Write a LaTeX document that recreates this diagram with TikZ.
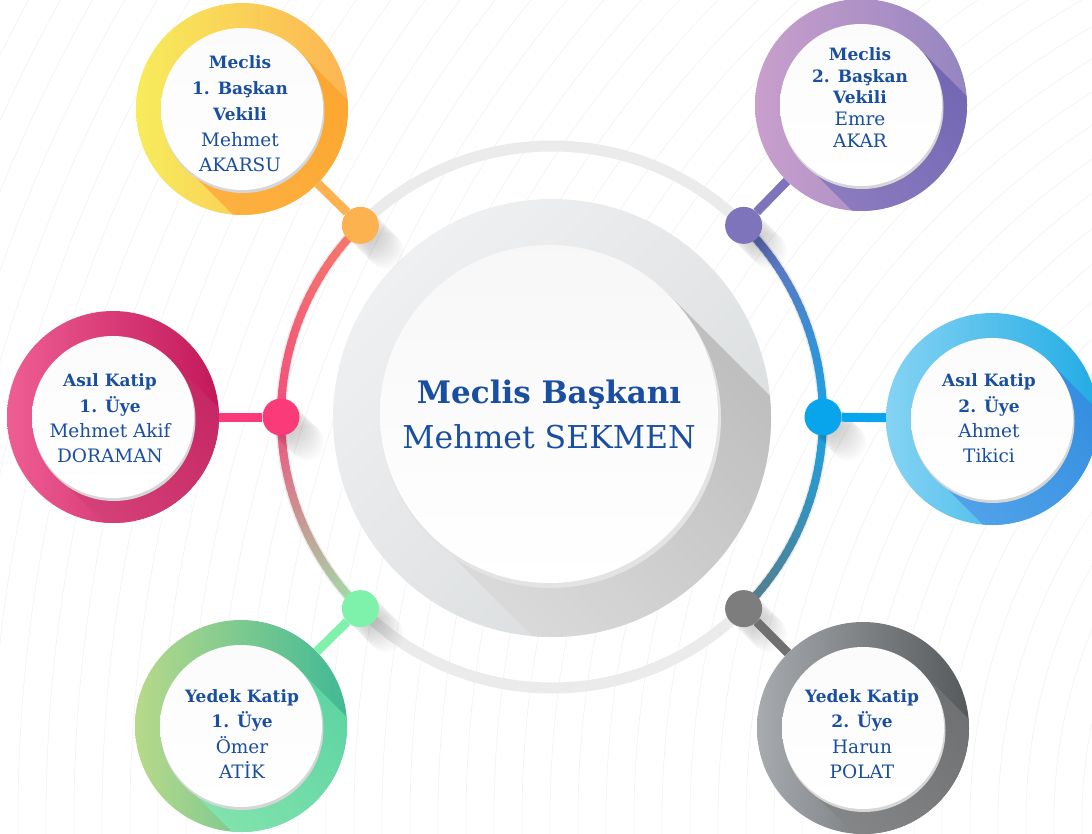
\documentclass[tikz,border=0pt]{standalone}
\usepackage{fontspec}
\setmainfont{DejaVu Serif}
\usetikzlibrary{calc}
\definecolor{txt}{HTML}{1A4EA0}
\definecolor{bgline}{HTML}{F2F2F2}
\definecolor{track}{HTML}{EBEBEB}
% arc colours
\definecolor{aTL}{HTML}{F57A6A}
\definecolor{aL}{HTML}{F24F7D}
\definecolor{aBL}{HTML}{9FE0AA}
\definecolor{aTR}{HTML}{6D6CB9}
\definecolor{aR}{HTML}{1CA3E4}
\definecolor{aBR}{HTML}{557D8A}
% dots
\definecolor{dTLc}{HTML}{FDB250}
\definecolor{dTRc}{HTML}{7D74BB}
\definecolor{dLc}{HTML}{FB3B79}
\definecolor{dRc}{HTML}{08A5EC}
\definecolor{dBLc}{HTML}{7EF1AB}
\definecolor{dBRc}{HTML}{7D7D7D}
% satellites: A bottom-left, B top-right, S/T shadow
\definecolor{tlA}{HTML}{F7EC5C}\definecolor{tlB}{HTML}{FDB552}\definecolor{tlS}{HTML}{FCA32B}\definecolor{tlT}{HTML}{FDB445}
\definecolor{trA}{HTML}{C99FCC}\definecolor{trB}{HTML}{9585C0}\definecolor{trS}{HTML}{6A5FB0}\definecolor{trT}{HTML}{9483C2}
\definecolor{lA}{HTML}{EE5E93}\definecolor{lB}{HTML}{C3185A}\definecolor{lS}{HTML}{C01E5C}\definecolor{lT}{HTML}{DA4A80}
\definecolor{rA}{HTML}{85D3F3}\definecolor{rB}{HTML}{22ACE5}\definecolor{rS}{HTML}{2A86DD}\definecolor{rT}{HTML}{5AAAEC}
\definecolor{blA}{HTML}{B8D98A}\definecolor{blB}{HTML}{40B995}\definecolor{blS}{HTML}{52CFA0}\definecolor{blT}{HTML}{8EE8B0}
\definecolor{brA}{HTML}{A7AAAE}\definecolor{brB}{HTML}{55595B}\definecolor{brS}{HTML}{666869}\definecolor{brT}{HTML}{8C8E90}
\definecolor{bigA}{HTML}{EFF0F1}\definecolor{bigB}{HTML}{D9DCDE}
\definecolor{bigS}{HTML}{BABABA}\definecolor{bigT}{HTML}{DEDEDE}

\newcommand\gradarc[4]{%
  \foreach \k in {0,...,29}{%
    \pgfmathsetmacro\aa{#1+(#2-#1)*\k/30}%
    \pgfmathsetmacro\ab{#1+(#2-#1)*(\k+1.4)/30}%
    \pgfmathtruncatemacro\p{100-100*\k/29}%
    \draw[line width=8, color=#3!\p!#4] ($(C)+(\aa:271)$) arc[start angle=\aa, end angle=\ab, radius=271];
  }}

% #1 node name, #2 colour prefix
\newcommand\satbody[2]{%
  \begin{scope}
    \clip (#1.center) circle (106);
    \shade[left color=#2S, right color=#2T, shading angle=-45]
      ($(#1.center)+(-45:81)$) -- ++(45:260) -- ($(#1.center)+(135:81)+(45:260)$) -- ($(#1.center)+(135:81)$) -- cycle;
  \end{scope}
  \fill[black!16] ($(#1.center)+(1,2.5)$) circle (81.5);
  \shade[top color=black!1.5, bottom color=white] (#1.center) circle (81);
}
\newcommand\dotshadow[1]{%
  \foreach \k in {1,...,12}{\fill[black, opacity=0.016] ($(#1)+(45:\k*3)$) circle (18);}}

\tikzset{
  sat/.style={circle, minimum size=212, inner sep=0pt, shading=axis, shading angle=45},
  dotn/.style={circle, minimum size=37, inner sep=0pt},
  conn/.style={line width=9},
  bl/.style={anchor=base, text=txt, font=\fontsize{17}{20}\selectfont\bfseries},
  rl/.style={anchor=base, text=txt, font=\fontsize{18.5}{20}\selectfont},
}

\begin{document}
\begin{tikzpicture}[x=1pt,y=-1pt]
\useasboundingbox (0,0) rectangle (1092,834);
\fill[white] (0,0) rectangle (1092,834);

% faint background arcs
\begin{scope}
  \clip (0,0) rectangle (1092,834);
  \foreach \r in {300,328,...,2000}{\draw[bgline, line width=0.6] (1550,820) circle (\r);}
\end{scope}

\coordinate (C) at (552,417);

% big central disk and its shadow
\node[circle, minimum size=438, inner sep=0pt, shading=axis, left color=bigA, right color=bigB, shading angle=45] (big) at (552,418) {};
\begin{scope}
  \clip (big.center) circle (219);
  \shade[left color=bigS, right color=bigT, shading angle=-45]
    ($(549,414)+(-45:169)$) -- ++(45:300) -- ($(549,414)+(135:169)+(45:300)$) -- ($(549,414)+(135:169)$) -- cycle;
\end{scope}
\fill[black!11] (551,418) circle (170);
\shade[top color=black!3, bottom color=white] (549,414) coordinate (inner) circle (169);

% track ring
\draw[track, line width=11] (C) circle (271);

% coloured arcs
\gradarc{225}{180}{aTL}{aL}
\gradarc{180}{135}{aL}{aBL}
\gradarc{-45}{0}{aTR}{aR}
\gradarc{0}{45}{aR}{aBR}

% dot coordinates
\path (C) ++(225:271) coordinate (pTL);
\path (C) ++(-45:271) coordinate (pTR);
\path (C) ++(180:271) coordinate (pL);
\path (C) ++(0:271) coordinate (pR);
\path (C) ++(135:271) coordinate (pBL);
\path (C) ++(45:271) coordinate (pBR);

% satellites (outer rings)
\node[sat, left color=tlA, right color=tlB] (sTL) at (242,109) {};
\node[sat, left color=trA, right color=trB] (sTR) at (861,105) {};
\node[sat, left color=lA, right color=lB] (sL) at (113,417) {};
\node[sat, left color=rA, right color=rB] (sR) at (992,419) {};
\node[sat, left color=blA, right color=blB] (sBL) at (241,726) {};
\node[sat, left color=brA, right color=brB] (sBR) at (863,728) {};

% dots (named) and their shadows
\dotshadow{pTL}\dotshadow{pTR}\dotshadow{pL}\dotshadow{pR}\dotshadow{pBL}\dotshadow{pBR}
\node[dotn] (dTL) at (pTL) {};
\node[dotn] (dTR) at (pTR) {};
\node[dotn] (dL) at (pL) {};
\node[dotn] (dR) at (pR) {};
\node[dotn] (dBL) at (pBL) {};
\node[dotn] (dBR) at (pBR) {};

% connectors
\draw[conn, dTLc] (sTL) -- (dTL);
\draw[conn, dTRc] (sTR) -- (dTR);
\draw[conn, dLc] (sL) -- (dL);
\draw[conn, dRc] (sR) -- (dR);
\draw[conn, dBLc] (sBL) -- (dBL);
\draw[conn, dBRc!90!black] (sBR) -- (dBR);

% dot fills
\fill[dTLc] (dTL) circle (18.5);
\fill[dTRc] (dTR) circle (18.5);
\fill[dLc] (dL) circle (18.5);
\fill[dRc] (dR) circle (18.5);
\fill[dBLc] (dBL) circle (18.5);
\fill[dBRc] (dBR) circle (18.5);

% satellite bodies
\satbody{sTL}{tl}
\satbody{sTR}{tr}
\satbody{sL}{l}
\satbody{sR}{r}
\satbody{sBL}{bl}
\satbody{sBR}{br}

% central text
\node[anchor=base, text=txt, font=\fontsize{31}{36}\selectfont\bfseries] (cT1) at (549,403) {Meclis Başkanı};
\node[anchor=base, text=txt, font=\fontsize{31.5}{36}\selectfont] (cT2) at (549,448) {Mehmet SEKMEN};

% satellite texts
\node[bl] (tl1) at (240,69) {Meclis};
\node[bl] (tl2) at (240,95) {1. Başkan};
\node[bl] (tl3) at (240,121) {Vekili};
\node[rl] (tl4) at (240,147) {Mehmet};
\node[rl] (tl5) at (240,172) {AKARSU};

\node[bl] (tr1) at (860,61) {Meclis};
\node[bl] (tr2) at (860,83) {2. Başkan};
\node[bl] (tr3) at (860,104) {Vekili};
\node[rl] (tr4) at (860,126) {Emre};
\node[rl] (tr5) at (860,148) {AKAR};

\node[bl] (l1) at (110,386) {Asıl Katip};
\node[bl] (l2) at (110,412) {1. Üye};
\node[rl] (l3) at (110,437) {Mehmet Akif};
\node[rl] (l4) at (110,462) {DORAMAN};

\node[bl] (r1) at (989,386) {Asıl Katip};
\node[bl] (r2) at (989,412) {2. Üye};
\node[rl] (r3) at (989,437) {Ahmet};
\node[rl] (r4) at (989,462) {Tikici};

\node[bl] (bl1) at (242,702) {Yedek Katip};
\node[bl] (bl2) at (242,727) {1. Üye};
\node[rl] (bl3) at (242,753) {Ömer};
\node[rl] (bl4) at (242,778) {ATİK};

\node[bl] (br1) at (862,702) {Yedek Katip};
\node[bl] (br2) at (862,727) {2. Üye};
\node[rl] (br3) at (862,753) {Harun};
\node[rl] (br4) at (862,778) {POLAT};
\end{tikzpicture}
\end{document}
